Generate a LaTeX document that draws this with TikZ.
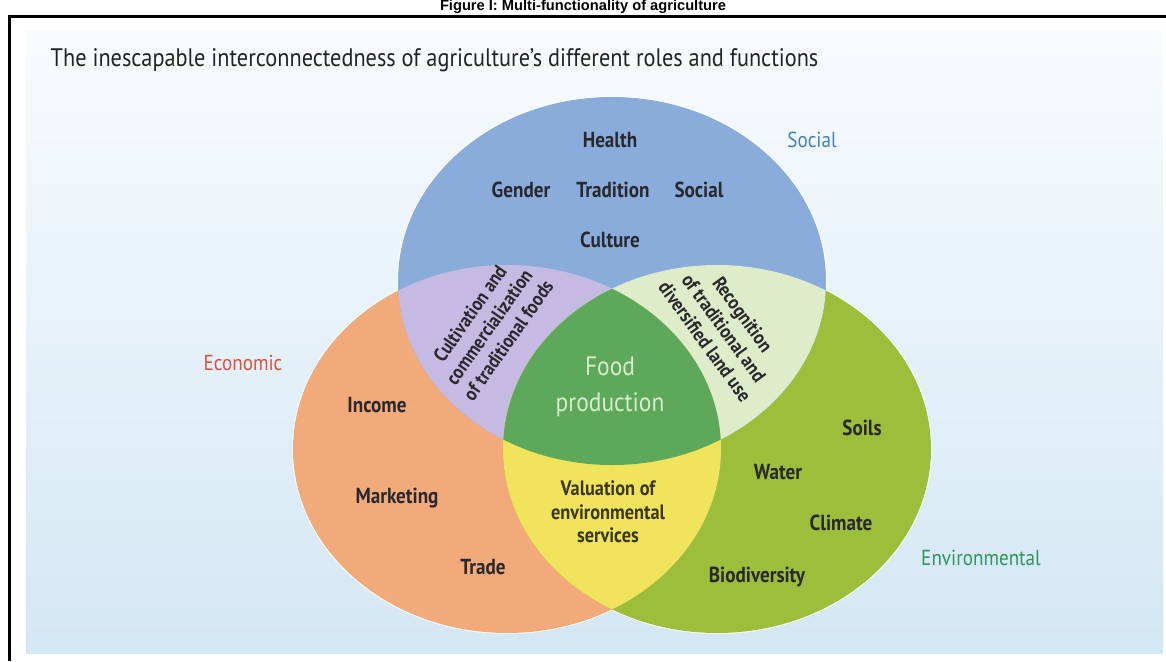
\documentclass[tikz,border=0pt]{standalone}
\usepackage{fontspec}
\setmainfont{PT Sans}[FakeStretch=0.88]
\newfontfamily\capfont{Liberation Sans}
\usetikzlibrary{positioning}

\definecolor{bgtop}{RGB}{248,251,254}
\definecolor{bgbottom}{RGB}{211,231,244}
\definecolor{socialblue}{RGB}{137,172,219}
\definecolor{econorange}{RGB}{242,170,122}
\definecolor{envgreen}{RGB}{156,190,58}
\definecolor{socecon}{RGB}{197,186,226}
\definecolor{socenv}{RGB}{223,236,201}
\definecolor{econenv}{RGB}{240,228,92}
\definecolor{foodgreen}{RGB}{93,168,90}
\definecolor{foodtext}{RGB}{214,238,203}
\definecolor{titletext}{RGB}{35,35,35}
\definecolor{labeltext}{RGB}{40,40,45}
\definecolor{valtext}{RGB}{60,55,20}
\definecolor{socialtext}{RGB}{62,132,196}
\definecolor{econtext}{RGB}{224,80,58}
\definecolor{envtext}{RGB}{45,150,90}

\tikzset{
  lbl/.style={font=\bfseries\fontsize{16.3}{19}\selectfont, text=labeltext},
  setname/.style={font=\fontsize{16.3}{19}\selectfont},
  turned/.style={font=\bfseries\fontsize{14.7}{17.5}\selectfont, text=labeltext, align=center}
}

\begin{document}
\begin{tikzpicture}[x=0.75pt,y=-0.75pt]
\useasboundingbox (0,0) rectangle (1166,661);
\fill[white] (0,0) rectangle (1166,661);

% caption and frame
\node[font=\capfont\bfseries\fontsize{11}{13}\selectfont, anchor=base] (caption) at (583,10) {Figure I: Multi-functionality of agriculture};
\draw[line width=2.2pt] (9.5,661) -- (9.5,16.5) -- (1166,16.5);

\shade[top color=bgtop, bottom color=bgbottom] (26,31) rectangle (1163,653);

\node[anchor=base west, font=\fontsize{19}{22}\selectfont, text=titletext] (title) at (46,66.5)
  {The inescapable interconnectedness of agriculture’s different roles and functions};

% white rims
\draw[white, line width=1.5pt] (612,281) ellipse [x radius=214, y radius=184];
\draw[white, line width=1.5pt] (507,449) ellipse [x radius=214, y radius=184];
\draw[white, line width=1.5pt] (717,449) ellipse [x radius=214, y radius=184];

% the three sets
\fill[econorange] (507,449) ellipse [x radius=214, y radius=184];
\fill[envgreen] (717,449) ellipse [x radius=214, y radius=184];
\fill[socialblue] (612,281) ellipse [x radius=214, y radius=184];

% overlaps
\begin{scope}
\clip (612,281) ellipse [x radius=214, y radius=184];
\fill[socecon] (507,449) ellipse [x radius=214, y radius=184];
\fill[socenv] (717,449) ellipse [x radius=214, y radius=184];
\end{scope}
\begin{scope}
\clip (507,449) ellipse [x radius=214, y radius=184];
\fill[econenv] (717,449) ellipse [x radius=214, y radius=184];
\end{scope}
\begin{scope}
\clip (612,281) ellipse [x radius=214, y radius=184];
\clip (507,449) ellipse [x radius=214, y radius=184];
\fill[foodgreen] (717,449) ellipse [x radius=214, y radius=184];
\end{scope}

% set names
\node[setname, text=socialtext] (sociallabel) at (812,140) {Social};
\node[setname, text=econtext] (econlabel) at (243,363) {Economic};
\node[setname, text=envtext] (envlabel) at (981,558) {Environmental};

% social
\node[lbl] (health) at (610,140) {Health};
\node[lbl] (tradition) at (613,190) {Tradition};
\node[lbl] (gender) at (521,190) {Gender};
\node[lbl] (socialword) at (699,190) {Social};
\node[lbl] (culture) at (610,240) {Culture};

% economic
\node[lbl] (income) at (377,405) {Income};
\node[lbl] (marketing) at (397,498) {Marketing};
\node[lbl] (trade) at (483,567) {Trade};

% environmental
\node[lbl] (soils) at (862,428) {Soils};
\node[lbl] (water) at (778,472) {Water};
\node[lbl] (climate) at (841,523) {Climate};
\node[lbl] (biodiversity) at (757,577) {Biodiversity};

% overlaps
\node[turned, rotate=55] (cultivation) at (489,327)
  {Cultivation and\\commercialization\\of traditional foods};
\node[turned, rotate=-54] (recognition) at (724,328)
  {Recognition\\of traditional and\\diversified land use};
\node[align=center, font=\bfseries\fontsize{15.6}{17.8}\selectfont, text=valtext] (valuation) at (608,512)
  {Valuation of\\environmental\\services};
\node[align=center, font=\fontsize{20}{27}\selectfont, text=foodtext] (food) at (610,387)
  {Food\\production};
\end{tikzpicture}
\end{document}
